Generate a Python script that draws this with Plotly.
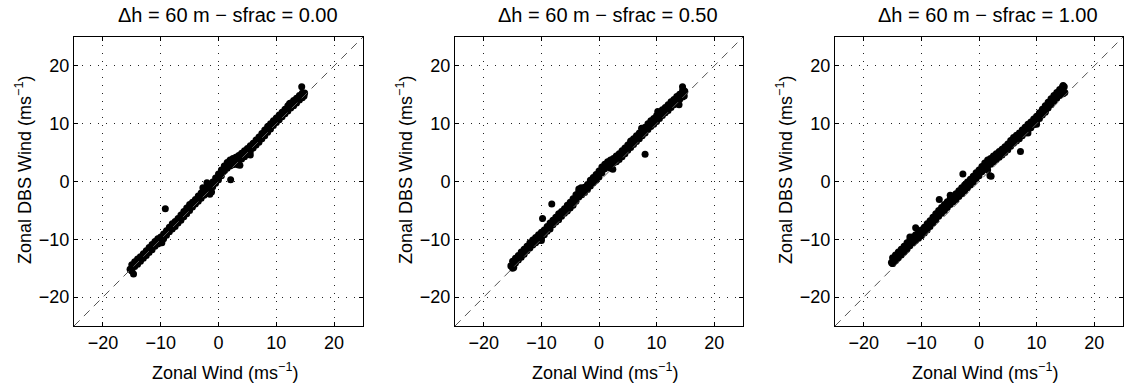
import plotly.graph_objects as go

# Axis limits shared by every panel (also used for the 1:1 reference line)
AXIS_LIMITS = [-25, 25]
TICKS = [-20, -10, 0, 10, 20]
TITLES = ["Δh = 60 m − sfrac = 0.00", "Δh = 60 m − sfrac = 0.50", "Δh = 60 m − sfrac = 1.00"]
X_LABEL = "Zonal Wind (ms<sup>−1</sup>)"
Y_LABEL = "Zonal DBS Wind (ms<sup>−1</sup>)"

# Reference zonal wind along the main cloud of points (ms-1)
wind_ref = [-15.0, -14.5, -14.0, -13.5, -13.0, -12.5, -12.0, -11.5, -11.0, -10.5,
            -10.0, -9.5, -9.0, -8.5, -8.0, -7.5, -7.0, -6.5, -6.0, -5.5,
            -5.0, -4.5, -4.0, -3.5, -3.0, -2.5, -2.0, -1.5, -1.0, -0.5,
            0.0, 0.5, 1.0, 1.5, 2.0, 2.5, 3.0, 3.5, 4.0, 4.5,
            5.0, 5.5, 6.0, 6.5, 7.0, 7.5, 8.0, 8.5, 9.0, 9.5,
            10.0, 10.5, 11.0, 11.5, 12.0, 12.5, 13.0, 13.5, 14.0, 14.5]

# sfrac = 0.00 : DBS wind, upper and lower edge of the cloud
dbs0_hi = [-14.4, -13.9, -13.4, -13.0, -12.5, -12.0, -11.4, -10.9, -10.4, -9.9,
           -9.6, -9.1, -8.5, -7.9, -7.3, -6.9, -6.4, -5.8, -5.2, -4.6,
           -4.0, -3.6, -3.1, -2.5, -2.0, -1.5, -0.9, -0.7, -0.1, 0.6,
           1.3, 2.0, 2.7, 3.3, 3.7, 4.0, 4.2, 4.5, 4.9, 5.3,
           5.7, 6.2, 6.6, 7.2, 7.7, 8.3, 8.9, 9.5, 10.0, 10.5,
           11.0, 11.5, 12.0, 12.5, 13.1, 13.6, 14.0, 14.4, 14.9, 15.3]
dbs0_lo = [-15.2, -14.7, -14.3, -13.8, -13.3, -12.8, -12.3, -11.8, -11.2, -10.8,
           -10.6, -9.9, -9.3, -8.7, -8.2, -7.8, -7.2, -6.7, -6.1, -5.6,
           -5.0, -4.4, -3.9, -3.4, -2.9, -2.4, -2.0, -1.8, -0.9, -0.3,
           0.3, 1.0, 1.8, 2.3, 2.7, 2.9, 3.2, 3.5, 3.9, 4.3,
           4.7, 5.2, 5.8, 6.3, 6.8, 7.4, 7.9, 8.5, 9.1, 9.7,
           10.2, 10.7, 11.2, 11.7, 12.2, 12.7, 13.1, 13.6, 14.1, 14.5]
extra0_x = [-15.3, -15.0, -14.7, -9.8, -9.2, -2.7, -2.0, -1.5, -1.2, 2.1, 3.3, 3.7, 5.5, 14.4, 14.8, 14.9, 12.3]
extra0_y = [-15.2, -15.5, -16.0, -10.6, -4.7, -1.1, -0.2, -2.2, -1.8, 0.3, 2.9, 2.8, 4.6, 16.4, 14.8, 15.3, 13.5]

# sfrac = 0.50
dbs1_hi = [-13.8, -13.3, -12.8, -12.2, -11.7, -11.2, -10.6, -10.1, -9.7, -9.2,
           -8.8, -8.4, -7.8, -7.2, -6.7, -6.2, -5.6, -5.2, -4.7, -4.1,
           -3.6, -3.0, -2.3, -1.7, -1.3, -1.0, -0.5, 0.2, 0.7, 1.2,
           1.8, 2.5, 3.0, 3.4, 3.7, 4.0, 4.4, 4.8, 5.3, 5.8,
           6.3, 6.8, 7.4, 7.9, 8.4, 8.9, 9.4, 10.0, 10.5, 10.9,
           11.4, 11.9, 12.4, 12.8, 13.3, 13.8, 14.2, 14.7, 15.1, 15.6]
dbs1_lo = [-14.6, -14.1, -13.6, -13.1, -12.6, -12.0, -11.5, -11.0, -10.6, -10.2,
           -9.8, -9.2, -8.6, -8.2, -7.5, -7.0, -6.6, -6.0, -5.5, -5.1,
           -4.6, -4.1, -3.4, -2.7, -2.3, -1.9, -1.4, -0.8, -0.2, 0.2,
           0.8, 1.5, 2.2, 2.6, 2.9, 3.2, 3.4, 3.8, 4.3, 4.8,
           5.4, 5.9, 6.4, 6.9, 7.4, 7.9, 8.4, 9.0, 9.5, 9.9,
           10.4, 10.9, 11.4, 11.9, 12.3, 12.8, 13.3, 13.7, 14.2, 14.6]
extra1_x = [-15.3, -15.0, -14.8, -9.8, -8.2, -10.0, -3.1, -3.5, 2.4, 2.0, 8.0, 10.2, 7.4, 5.5, 13.9, 14.6, 14.5, 14.9, 14.8]
extra1_y = [-14.6, -15.0, -14.9, -6.4, -3.9, -10.2, -1.1, -1.3, 2.1, 2.3, 4.7, 12.1, 9.2, 7.0, 13.3, 15.9, 16.4, 15.6, 14.8]

# sfrac = 1.00
dbs2_hi = [-13.2, -12.7, -12.2, -11.7, -11.2, -10.6, -10.1, -9.6, -9.2, -8.8,
           -8.4, -7.9, -7.3, -6.8, -6.2, -5.6, -5.0, -4.5, -4.0, -3.5,
           -3.0, -2.5, -2.1, -1.6, -1.1, -0.6, -0.1, 0.4, 0.9, 1.5,
           2.0, 2.6, 3.2, 3.7, 4.0, 4.4, 4.8, 5.2, 5.6, 6.0,
           6.5, 7.1, 7.6, 8.0, 8.4, 8.9, 9.4, 9.9, 10.3, 10.8,
           11.3, 11.9, 12.5, 13.1, 13.7, 14.3, 14.9, 15.4, 15.9, 16.4]
dbs2_lo = [-14.2, -13.7, -13.2, -12.7, -12.2, -11.7, -11.1, -10.6, -10.2, -9.8,
           -9.4, -8.9, -8.4, -7.8, -7.2, -6.6, -6.0, -5.5, -5.0, -4.5,
           -4.0, -3.5, -3.1, -2.6, -2.1, -1.6, -1.1, -0.6, -0.1, 0.5,
           1.0, 1.7, 2.3, 2.7, 3.0, 3.4, 3.8, 4.2, 4.6, 5.0,
           5.5, 6.1, 6.6, 7.0, 7.4, 7.9, 8.4, 8.9, 9.3, 9.8,
           10.3, 10.9, 11.5, 12.1, 12.7, 13.3, 13.9, 14.4, 14.9, 15.4]
extra2_x = [-15.2, -15.0, -11.0, -12.0, -6.9, -5.0, -2.8, 1.9, 2.1, 1.5, 7.2, 8.5, 10.0, 14.6, 14.8, 14.9, 14.6, 11.5]
extra2_y = [-14.0, -14.2, -8.0, -9.6, -3.1, -2.4, 1.3, 1.0, 0.9, 2.0, 5.2, 8.4, 9.9, 16.6, 16.4, 15.4, 15.2, 12.0]

panels = [
    (dbs0_hi, dbs0_lo, extra0_x, extra0_y),
    (dbs1_hi, dbs1_lo, extra1_x, extra1_y),
    (dbs2_hi, dbs2_lo, extra2_x, extra2_y),
]

W, H = 1131, 388
# plot-area boxes in pixels (left, right) and (top, bottom)
x_boxes = [(74, 363), (455, 743), (835, 1123)]
y_box = (37, 326)

FONT = "Liberation Sans, Arial, Helvetica, sans-serif"

fig = go.Figure()
annotations = []
layout_axes = {}

for i, (hi, lo, ex, ey) in enumerate(panels):
    sfx = "" if i == 0 else str(i + 1)
    xs = wind_ref + wind_ref + ex
    ys = hi + lo + ey
    fig.add_trace(go.Scatter(
        x=xs, y=ys, mode="markers",
        marker=dict(size=7, color="black", line=dict(width=0)),
        xaxis="x" + sfx, yaxis="y" + sfx, showlegend=False, hoverinfo="skip"))
    # 1:1 reference line
    fig.add_trace(go.Scatter(
        x=AXIS_LIMITS, y=AXIS_LIMITS, mode="lines",
        line=dict(color="#555555", width=1, dash="8px,6px"),
        xaxis="x" + sfx, yaxis="y" + sfx, showlegend=False, hoverinfo="skip"))

    l, r = x_boxes[i]
    t, b = y_box
    common = dict(
        range=AXIS_LIMITS, tickvals=TICKS, ticktext=[str(v).replace("-", "−") for v in TICKS],
        ticks="inside", ticklen=4, tickcolor="black", tickwidth=1,
        showline=True, linecolor="black", linewidth=1, mirror="ticks",
        showgrid=True, gridcolor="#222222", gridwidth=1, griddash="1px,7px",
        zeroline=False, tickfont=dict(family=FONT, size=18, color="black"),
        fixedrange=True,
    )
    layout_axes["xaxis" + sfx] = dict(common, domain=[l / W, r / W], anchor="y" + sfx)
    layout_axes["yaxis" + sfx] = dict(common, domain=[1 - b / H, 1 - t / H], anchor="x" + sfx)

    cx = (l + r) / 2
    annotations.append(dict(
        text=TITLES[i], x=(cx + 9) / W, y=1 - 15 / H, xref="paper", yref="paper",
        xanchor="center", yanchor="middle", showarrow=False,
        font=dict(family=FONT, size=20, color="black")))
    annotations.append(dict(
        text=X_LABEL, x=(cx + 6) / W, y=1 - 371 / H, xref="paper", yref="paper",
        xanchor="center", yanchor="middle", showarrow=False,
        font=dict(family=FONT, size=18, color="black")))
    annotations.append(dict(
        text=Y_LABEL, x=(l - 51) / W, y=1 - 170 / H, xref="paper", yref="paper",
        xanchor="center", yanchor="middle", showarrow=False, textangle=-90,
        font=dict(family=FONT, size=18, color="black")))

fig.update_layout(
    width=W, height=H, margin=dict(l=0, r=0, t=0, b=0),
    paper_bgcolor="white", plot_bgcolor="white",
    annotations=annotations, **layout_axes)

fig.write_html("out.html")
